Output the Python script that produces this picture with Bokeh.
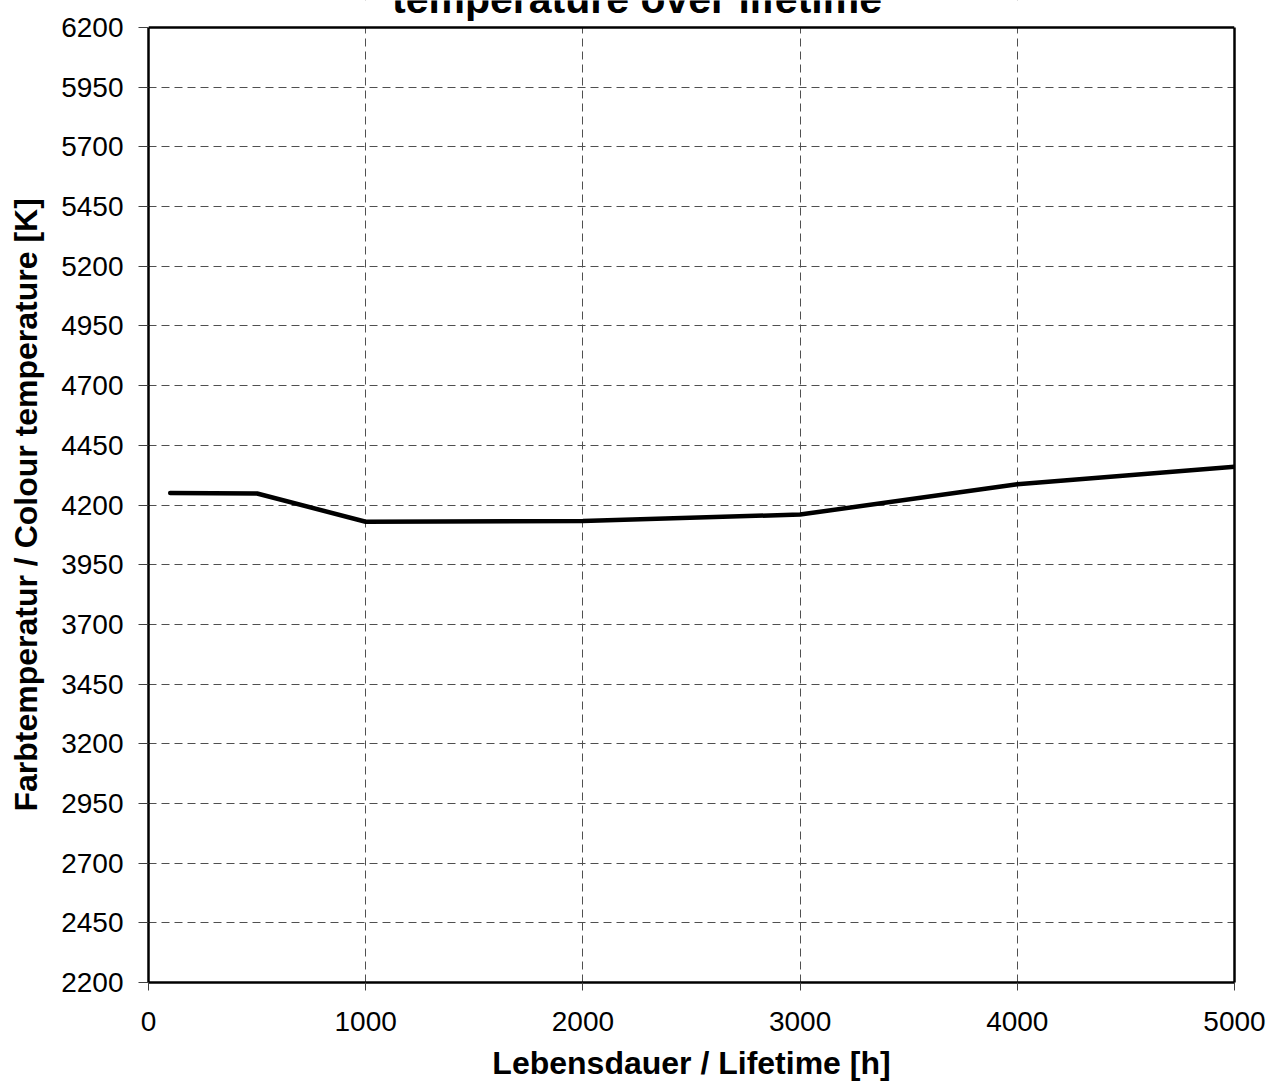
from bokeh.plotting import figure
from bokeh.models import Range1d, FixedTicker, Label, LinearAxis, BoxAnnotation, Span
from bokeh.embed import file_html
from bokeh.resources import INLINE

# data
lifetime_h = [100, 500, 1000, 2000, 3000, 4000, 5000]
colour_temp_K = [4250, 4248, 4130, 4133, 4160, 4287, 4360]

x_ticks = [0, 1000, 2000, 3000, 4000, 5000]
y_ticks = [2200, 2450, 2700, 2950, 3200, 3450, 3700, 3950, 4200,
           4450, 4700, 4950, 5200, 5450, 5700, 5950, 6200]

title_text = "temperature over lifetime"
x_title = "Lebensdauer / Lifetime [h]"
y_title = "Farbtemperatur / Colour temperature [K]"

FONT = "Liberation Sans"

y_min, y_max = 2200, 6200
x_min, x_max = 0, 5000
# the plot frame is extended upwards so that the (clipped) title strip lies inside it
px_per_K = 955 / (y_max - y_min)
y_top = y_max + 27 / px_per_K

p = figure(width=1269, height=1083, output_backend="svg", toolbar_location=None,
           x_range=Range1d(x_min, x_max), y_range=Range1d(y_min, y_top),
           min_border_left=148, min_border_right=35, min_border_top=0,
           min_border_bottom=101)

p.background_fill_color = "white"
p.border_fill_color = "white"
p.outline_line_color = None

p.line(lifetime_h, colour_temp_K, line_color="black", line_width=4.5,
       line_cap="round", line_join="round")

def style_axis(ax, ticks):
    ax.ticker = FixedTicker(ticks=ticks)
    ax.minor_tick_line_color = None
    ax.major_tick_in = 0
    ax.major_tick_line_color = "#404040"
    ax.major_tick_line_width = 1
    ax.axis_line_color = "black"
    ax.axis_line_width = 2.5
    ax.major_label_text_font = FONT
    ax.major_label_text_font_size = "28px"
    ax.major_label_text_color = "black"
    ax.axis_label_text_font = FONT
    ax.axis_label_text_font_size = "32px"
    ax.axis_label_text_font_style = "bold"
    ax.axis_label_text_color = "black"

style_axis(p.xaxis[0], x_ticks)
style_axis(p.yaxis[0], y_ticks)

p.xaxis[0].major_tick_out = 8
p.xaxis[0].major_label_standoff = 21
p.xaxis[0].axis_label = x_title
p.xaxis[0].axis_label_standoff = 11

p.yaxis[0].bounds = (y_min, y_max)
p.yaxis[0].major_tick_out = 10
p.yaxis[0].major_label_standoff = 15
p.yaxis[0].axis_label = y_title + "   "
p.yaxis[0].axis_label_standoff = 14

right = LinearAxis(bounds=(y_min, y_max), ticker=FixedTicker(ticks=[]),
                   axis_line_color="black", axis_line_width=2.5,
                   major_tick_line_color=None, minor_tick_line_color=None,
                   major_tick_out=0, major_label_standoff=0)
p.add_layout(right, "right")

for g in (p.xgrid[0], p.ygrid[0]):
    g.grid_line_color = "#505050"
    g.grid_line_width = 1
    g.grid_line_dash = "8 5"
p.xgrid[0].ticker = FixedTicker(ticks=x_ticks)
p.ygrid[0].ticker = FixedTicker(ticks=y_ticks)

mask = BoxAnnotation(bottom=y_max, fill_color="white", fill_alpha=1.0,
                     line_color=None)
p.add_layout(mask)
top_border = Span(location=y_max, dimension="width", line_color="black",
                  line_width=2.5)
p.add_layout(top_border)

title = Label(x=2249, y=y_top + 2 / px_per_K, text=title_text, text_font=FONT,
              text_font_size="41px", text_font_style="bold",
              text_align="center", text_baseline="alphabetic",
              text_color="black")
p.add_layout(title)

open("out.html", "w").write(file_html(p, INLINE))
